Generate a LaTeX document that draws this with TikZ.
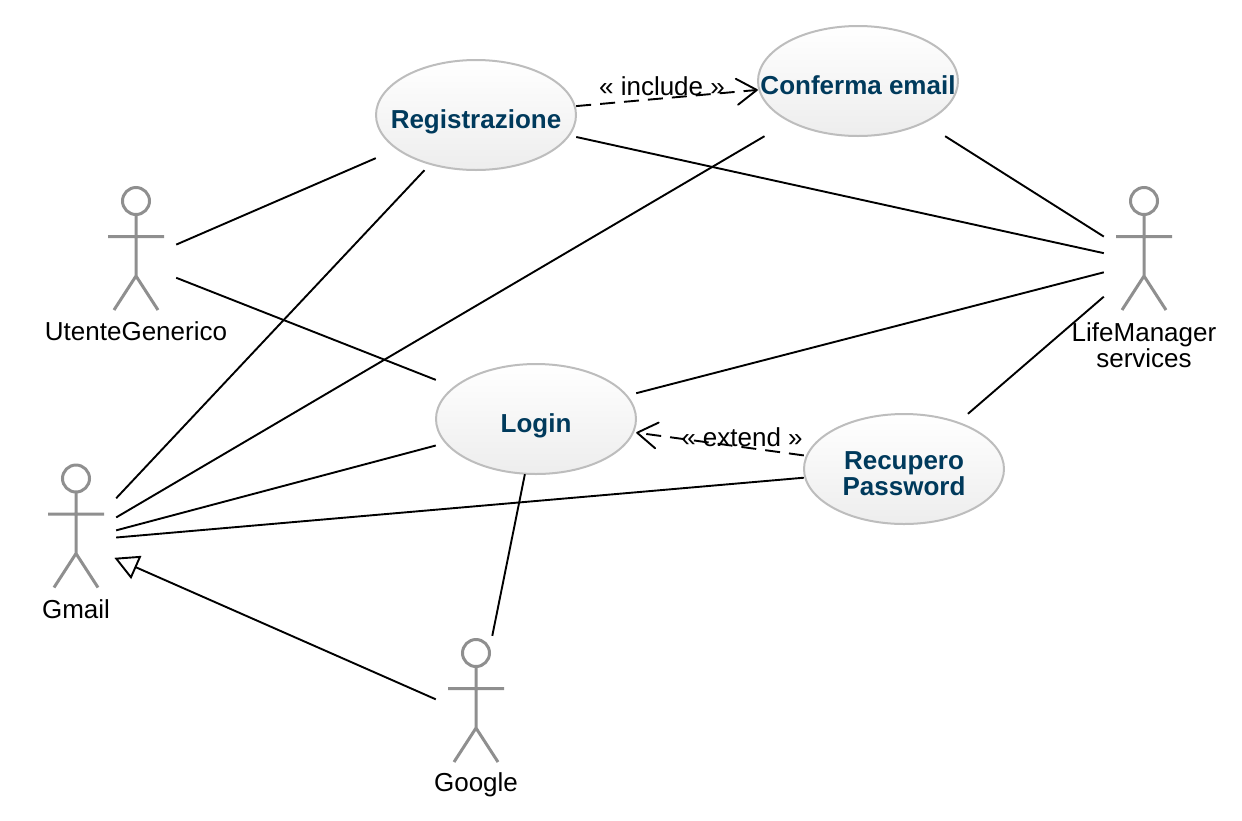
\documentclass[tikz,border=0pt]{standalone}
\usepackage{fontspec}
\setmainfont{Liberation Sans}
\usetikzlibrary{shapes.geometric,arrows.meta}
\definecolor{ucborder}{HTML}{BDBDBD}
\definecolor{uctext}{HTML}{003A5C}
\definecolor{actorgray}{HTML}{8F8F8F}
\tikzset{
  ucshape/.style={ellipse,draw=ucborder,line width=2pt,top color=white,bottom color=black!7,minimum width=200pt,minimum height=110pt,inner sep=0pt},
  ucbox/.style={rectangle,minimum width=200pt,minimum height=110pt,inner sep=0pt},
  uctitle/.style={inner sep=0pt,align=center,text=uctext,yshift=-5pt,font=\fontsize{26}{26}\selectfont\bfseries},
  actorbox/.style={rectangle,minimum width=80pt,minimum height=162pt,inner sep=0pt},
  actorlabel/.style={align=center,inner sep=0pt,text=black,font=\fontsize{26}{26}\selectfont},
  assoc/.style={draw=black,line width=1.9pt},
  dep/.style={assoc,dash pattern=on 15pt off 9pt,-{Straight Barb[length=20pt,width=26pt,line width=1.9pt,round=false]}},
  gen/.style={assoc,shorten >=-2pt,-{Triangle[open,fill=white,length=24pt,width=25pt,line width=1.9pt]}},
  steplabel/.style={inner sep=0pt,text=black,font=\fontsize{26}{26}\selectfont},
  stick/.pic={
    \draw[actorgray,line width=3pt] (0,0) circle[radius=13.5pt];
    \draw[actorgray,line width=3pt] (0,13.5) -- (0,75) (-28,35.5) -- (28,35.5) (-22,109) -- (0,75) -- (22,109);
  }
}
\begin{document}
\begin{tikzpicture}[x=1pt,y=-1pt]
\useasboundingbox (0,0) rectangle (1242,820);
% use cases
\node[ucshape] (regshape) at (476,115) {};
\node[ucbox] (reg) at (regshape) {};
\node[uctitle,yshift=-1.5pt] (regt) at (reg) {Registrazione};
\node[ucshape] (confshape) at (858,81) {};
\node[ucbox] (conf) at (confshape) {};
\node[uctitle,yshift=1pt] (conft) at (conf) {Conferma email};
\node[ucshape] (loginshape) at (536,419) {};
\node[ucbox] (login) at (loginshape) {};
\node[uctitle,yshift=-1.5pt] (logint) at (login) {Login};
\node[ucshape] (recshape) at (904,469) {};
\node[ucbox] (rec) at (recshape) {};
\node[uctitle] (rect) at (rec) {Recupero\\Password};
% actors
\node[actorbox] (utente) at (136,262) {};
\pic at (136,201) {stick};
\node[actorlabel] (utentel) at (136,331) {UtenteGenerico};
\node[actorbox] (life) at (1144,262) {};
\pic at (1144,201) {stick};
\node[actorlabel] (lifel) at (1144,345) {LifeManager\\services};
\node[actorbox] (gmail) at (76,541) {};
\pic at (76,478.5) {stick};
\node[actorlabel] (gmaill) at (76,609) {Gmail};
\node[actorbox] (google) at (476,717) {};
\pic at (476,653) {stick};
\node[actorlabel] (googlel) at (476,785) {Google};
% connectors
\draw[assoc] (utente) -- (reg);
\draw[assoc] (utente) -- (login);
\draw[assoc] (reg) -- (life);
\draw[assoc] (conf) -- (life);
\draw[assoc] (login) -- (life);
\draw[assoc] (rec) -- (life);
\draw[assoc] (gmail) -- (reg);
\draw[assoc] (gmail) -- (conf);
\draw[assoc] (gmail) -- (login);
\draw[assoc] (gmail) -- (rec);
\draw[assoc] (login) -- (google);
\draw[gen] (google) -- (gmail);
\draw[dep] (reg) -- (conf);
\draw[dep] (rec) -- (login);
\node[steplabel] (inc) at (662,86) {« include »};
\node[steplabel] (ext) at (742,437) {« extend »};
\end{tikzpicture}
\end{document}
